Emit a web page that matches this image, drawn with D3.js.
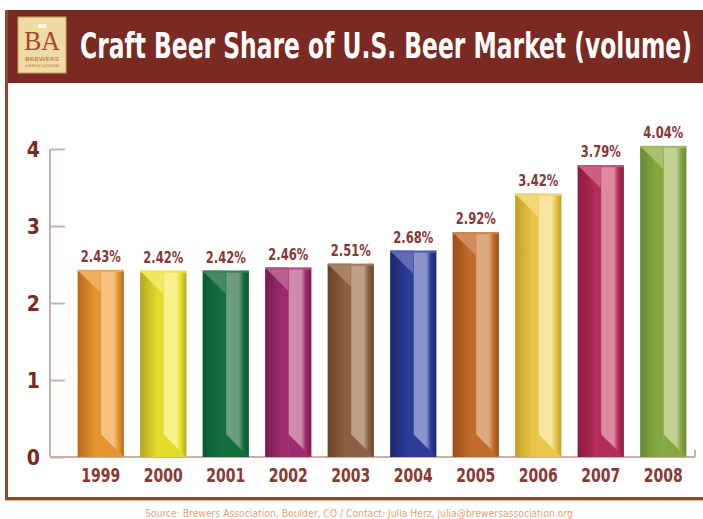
<!DOCTYPE html>
<html>
<head>
<meta charset="utf-8">
<script src="https://cdn.jsdelivr.net/npm/d3@7"></script>
<style>
  html, body { margin: 0; padding: 0; background: #fff; }
  svg { display: block; }
  .cond { font-family: "Liberation Sans Narrow", "DejaVu Sans Condensed", "Roboto Condensed", sans-serif; font-stretch: condensed; }
</style>
</head>
<body>
<svg id="chart" width="703" height="519"></svg>
<script>
// ---- data ----
const years = ["1999", "2000", "2001", "2002", "2003", "2004", "2005", "2006", "2007", "2008"];
const shares = [2.43, 2.42, 2.42, 2.46, 2.51, 2.68, 2.92, 3.42, 3.79, 4.04];
const yTicks = [0, 1, 2, 3, 4];
const baseColors  = ["#e5952f", "#e4dc2c", "#13703e", "#a02a6e", "#8a6040", "#2c3c98", "#c26c2a", "#e8c64a", "#b22c5c", "#86a844"];
const darkColors  = ["#b86a1c", "#b0a81c", "#0a5a30", "#781a50", "#6a4224", "#1a2870", "#9a4e18", "#c49c22", "#8a1a40", "#6a8a30"];
const lightColors = ["#f6c282", "#f8f28e", "#6e9c7e", "#cc8caa", "#bca088", "#8c94cc", "#deaa84", "#f8e6a0", "#dc8a9e", "#c2d292"];
const titleText = "Craft Beer Share of U.S. Beer Market (volume)";
const sourceText = "Source: Brewers Association, Boulder, CO  /  Contact: Julia Herz, julia@brewersassociation.org";

const svg = d3.select("#chart");
const defs = svg.append("defs");

// ---- frame ----
svg.append("rect").attr("x", 5).attr("y", 10).attr("width", 698).attr("height", 73).attr("fill", "#7a2a22");
svg.append("rect").attr("x", 5).attr("y", 10).attr("width", 3).attr("height", 490).attr("fill", "#8a4a2e");
svg.append("rect").attr("x", 5).attr("y", 497).attr("width", 698).attr("height", 3).attr("fill", "#8a4a2a");
svg.append("rect").attr("x", 5).attr("y", 500).attr("width", 698).attr("height", 1).attr("fill", "#e0b890");

// logo
svg.append("rect").attr("x", 18).attr("y", 17).attr("width", 48).attr("height", 56)
  .attr("fill", "#f1dba4").attr("stroke", "#c89a5a").attr("stroke-width", 1);
svg.append("text").attr("x", 42).attr("y", 50).attr("text-anchor", "middle")
  .attr("font-family", "Liberation Serif, DejaVu Serif, serif").attr("font-size", 28)
  .attr("fill", "#a0482a").attr("textLength", 36).attr("lengthAdjust", "spacingAndGlyphs").text("BA");
svg.append("rect").attr("x", 38).attr("y", 24).attr("width", 8).attr("height", 4).attr("fill", "#fff8e0");
svg.append("text").attr("x", 42).attr("y", 61).attr("text-anchor", "middle")
  .attr("font-family", "DejaVu Sans, sans-serif").attr("font-size", 5).attr("fill", "#b06a3a")
  .attr("textLength", 34).attr("lengthAdjust", "spacingAndGlyphs").text("BREWERS");
svg.append("text").attr("x", 42).attr("y", 67).attr("text-anchor", "middle")
  .attr("font-family", "DejaVu Sans, sans-serif").attr("font-size", 3.5).attr("fill", "#b06a3a")
  .attr("textLength", 34).attr("lengthAdjust", "spacingAndGlyphs").text("ASSOCIATION");

// title (scaled horizontally to fit the band)
const title = svg.append("text").attr("class", "cond").attr("x", 0).attr("y", 0)
  .attr("font-size", 35).attr("font-weight", "bold").attr("fill", "#ffffff").text(titleText);
const natural = title.node().getComputedTextLength();
title.attr("transform", `translate(80,58) scale(${612 / natural},1)`);

// ---- scales ----
const x = d3.scaleBand().domain(years).range([62, 702]).paddingInner(0.26).paddingOuter(0.25);
const y = d3.scaleLinear().domain([0, 4]).range([457, 149]);

// axes
const axisColor = "#c8b0a6";
svg.append("line").attr("x1", 50).attr("x2", 50).attr("y1", y(4)).attr("y2", y(0))
  .attr("stroke", axisColor).attr("stroke-width", 2);
svg.append("line").attr("x1", 50).attr("x2", 695).attr("y1", y(0)).attr("y2", y(0))
  .attr("stroke", axisColor).attr("stroke-width", 2);
svg.append("line").attr("x1", 695).attr("x2", 695).attr("y1", y(0) - 7).attr("y2", y(0))
  .attr("stroke", axisColor).attr("stroke-width", 2);

const yAxis = d3.axisLeft(y).tickValues(yTicks).tickSize(-15).tickPadding(10).tickFormat(d3.format("d"));
const yg = svg.append("g").attr("transform", "translate(50,0)").call(yAxis);
yg.select(".domain").remove();
yg.selectAll(".tick line").attr("stroke", axisColor).attr("stroke-width", 2);
yg.selectAll(".tick text").attr("class", "cond").attr("font-size", 21).attr("font-weight", "bold")
  .attr("fill", "#7a2a22").attr("dy", "0.36em").attr("x", -10);

// ---- bars ----
years.forEach((yr, i) => {
  const g = defs.append("linearGradient").attr("id", "g" + i).attr("x1", 0).attr("x2", 1).attr("y1", 0).attr("y2", 0);
  [[0, darkColors[i]], [0.38, baseColors[i]], [0.5, baseColors[i]], [0.52, lightColors[i]],
   [0.78, lightColors[i]], [0.88, baseColors[i]], [1, darkColors[i]]]
    .forEach(([o, c]) => g.append("stop").attr("offset", o).attr("stop-color", c));
});

const bars = svg.append("g").selectAll("g").data(years).join("g");
bars.each(function(yr, i) {
  const gg = d3.select(this);
  const x0 = x(yr), w = x.bandwidth(), x1 = x0 + w;
  const y0 = y(shares[i]), y1 = y(0);
  const xL = x0 + 0.5 * w;
  const bev = x1 - xL;
  gg.append("rect").attr("x", x0).attr("y", y0).attr("width", w).attr("height", y1 - y0)
    .attr("fill", `url(#g${i})`);
  // top bevel
  gg.append("path").attr("d", `M${x0},${y0} L${xL},${y0 + bev} L${xL},${y0} Z`)
    .attr("fill", d3.interpolateRgb(baseColors[i], lightColors[i])(0.55));
  gg.append("rect").attr("x", x0).attr("y", y0).attr("width", w).attr("height", 2)
    .attr("fill", d3.interpolateRgb(baseColors[i], lightColors[i])(0.4));
  // bottom bevel
  gg.append("path").attr("d", `M${xL},${y1 - bev} L${x1},${y1} L${xL},${y1} Z`)
    .attr("fill", baseColors[i]);
  // value label
  gg.append("text").attr("class", "cond").attr("x", x0 + w / 2).attr("y", y0 - 8)
    .attr("text-anchor", "middle").attr("font-size", 16).attr("font-weight", "bold")
    .attr("fill", "#8a3636").attr("textLength", 40).attr("lengthAdjust", "spacingAndGlyphs")
    .text(d3.format(".2f")(shares[i]) + "%");
});

// x labels
svg.append("g").selectAll("text").data(years).join("text")
  .attr("class", "cond")
  .attr("x", d => x(d) + x.bandwidth() / 2).attr("y", 482)
  .attr("text-anchor", "middle").attr("font-size", 20).attr("font-weight", "bold")
  .attr("fill", "#8a3a32").attr("textLength", 39).attr("lengthAdjust", "spacingAndGlyphs")
  .text(d => d);

// source
svg.append("text").attr("class", "cond").attr("x", 359).attr("y", 517)
  .attr("text-anchor", "middle").attr("font-size", 10).attr("fill", "#e6a274")
  .attr("textLength", 428).attr("lengthAdjust", "spacingAndGlyphs").text(sourceText);
</script>
</body>
</html>
